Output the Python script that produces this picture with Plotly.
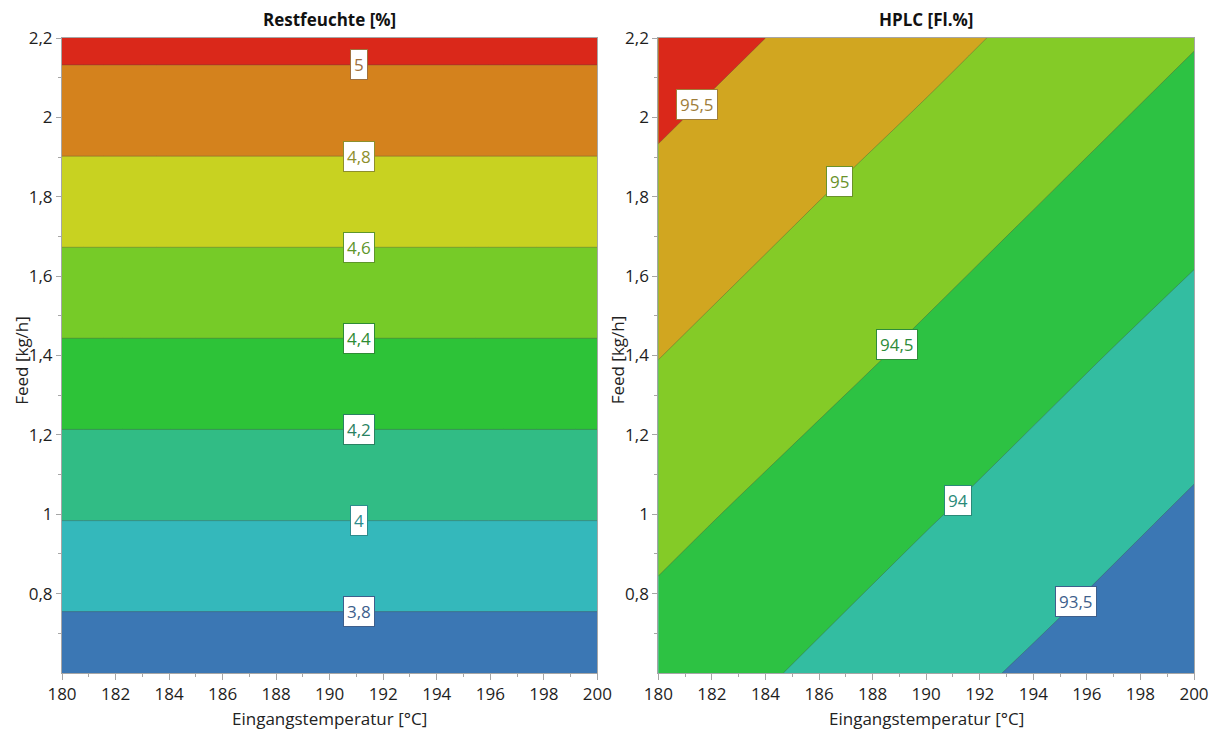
import numpy as np
import plotly.graph_objects as go

# Factor grid: inlet temperature (°C) and feed rate (kg/h)
temperature = [180, 185, 190, 195, 200]
feed = [0.6, 1.0, 1.4, 1.8, 2.2]

# Residual moisture [%] on the grid (rows = feed, columns = temperature)
restfeuchte = [
    [3.665, 3.665, 3.665, 3.665, 3.665],
    [4.014, 4.014, 4.014, 4.014, 4.014],
    [4.362, 4.362, 4.362, 4.362, 4.362],
    [4.711, 4.711, 4.711, 4.711, 4.711],
    [5.059, 5.059, 5.059, 5.059, 5.059],
]

# HPLC purity [area %] on the grid (rows = feed, columns = temperature)
hplc = [
    [94.28, 93.98, 93.67, 93.37, 93.07],
    [94.64, 94.34, 94.04, 93.74, 93.43],
    [95.01, 94.71, 94.41, 94.10, 93.80],
    [95.38, 95.07, 94.77, 94.47, 94.17],
    [95.74, 95.44, 95.14, 94.83, 94.53],
]

rf_levels = [3.8, 4.0, 4.2, 4.4, 4.6, 4.8, 5.0]
hplc_levels = [93.5, 94.0, 94.5, 95.0, 95.5]

# temperature at which each contour label sits
rf_label_temp = [191.1, 191.1, 191.1, 191.1, 191.1, 191.1, 191.1]
hplc_label_temp = [195.6, 191.2, 188.9, 186.75, 181.45]

rf_colors = ["#3B77B4", "#34B8BB", "#31BC85", "#2DC338",
             "#76CB28", "#C8D221", "#D4821D", "#DA281A"]
hplc_colors = ["#3B77B4", "#33BDA1", "#2DC243", "#84CB27", "#D1A620", "#DA281A"]

rf_label_colors = ["#3E5F8C", "#2C8C8E", "#2A8262", "#2E8C34",
                   "#5E962A", "#8E8F2C", "#A0703C"]
hplc_label_colors = ["#3E5F8C", "#2A8A78", "#2E8C3A", "#6A922A", "#A07E3A"]

W, H = 1210, 731
SX = 1.0125         # horizontal scale for pixel-based placement
ML, MR, MT, MB = round(61 * SX), W - round(1194 * SX), 38, 58
PW, PH = W - ML - MR, H - MT - MB


def px(x):
    return (x * SX - ML) / PW


def py(y):
    return (H - MB - y) / PH


def level_feed(z, t, level):
    col = [np.interp(t, temperature, row) for row in z]
    return float(np.interp(level, col, feed))


def stepped_scale(colors):
    n = len(colors) - 1
    return [[k / n, c] for k, c in enumerate(colors)]


fig = go.Figure()

panels = [
    (restfeuchte, rf_levels, rf_colors, rf_label_temp, rf_label_colors, "x", "y"),
    (hplc, hplc_levels, hplc_colors, hplc_label_temp, hplc_label_colors, "x2", "y2"),
]

for z, levels, colors, ltemp, lcolors, xa, ya in panels:
    size = round(levels[1] - levels[0], 6)
    fig.add_trace(go.Contour(
        x=temperature, y=feed, z=z,
        xaxis=xa, yaxis=ya,
        contours=dict(start=levels[0], end=levels[-1], size=size,
                      coloring="fill", showlabels=False),
        colorscale=stepped_scale(colors),
        line=dict(color="rgba(70,70,70,0.35)", width=1),
        showscale=False, hoverinfo="skip",
    ))
    for lvl, t, c in zip(levels, ltemp, lcolors):
        fig.add_annotation(
            x=t, y=level_feed(z, t, lvl), xref=xa, yref=ya,
            text=f"{lvl:g}".replace(".", ","), showarrow=False,
            font=dict(family="Open Sans", size=17, color=c),
            bgcolor="white", bordercolor=c, borderwidth=1, borderpad=3,
        )

axis_common = dict(
    showgrid=False, zeroline=False, showline=True, linecolor="#A6A6A6",
    linewidth=1, mirror=True, ticks="outside", tickcolor="#A6A6A6",
    tickfont=dict(family="Open Sans", size=17, color="#1E1E1E"),
)
xcommon = dict(axis_common, range=[180, 200], tickvals=list(range(180, 201, 2)),
               ticklen=6, minor=dict(ticks="outside", dtick=1, ticklen=3,
                                     tickcolor="#A6A6A6"))
ycommon = dict(axis_common, range=[0.6, 2.2],
               tickvals=[0.8, 1.0, 1.2, 1.4, 1.6, 1.8, 2.0, 2.2], ticklen=5,
               minor=dict(ticks="outside", tickvals=[0.7, 0.9, 1.1, 1.3, 1.5, 1.7, 1.9, 2.1],
                          ticklen=3, tickcolor="#A6A6A6"))

left_dom = [0, px(597)]
right_dom = [px(658), 1]

fig.update_layout(
    width=W, height=H, autosize=False,
    margin=dict(l=ML, r=MR, t=MT, b=MB),
    paper_bgcolor="white", plot_bgcolor="white",
    separators=",.",
    showlegend=False,
    xaxis=dict(xcommon, domain=left_dom, anchor="y"),
    yaxis=dict(ycommon, domain=[0, 1], anchor="x"),
    xaxis2=dict(xcommon, domain=right_dom, anchor="y2"),
    yaxis2=dict(ycommon, domain=[0, 1], anchor="x2"),
)

text_font = dict(family="Open Sans", size=17, color="#222222")
title_font = dict(family="Open Sans", size=17, color="#111111")

for cx, title in [(329, "<b>Restfeuchte [%]</b>"), (926, "<b>HPLC [Fl.%]</b>")]:
    fig.add_annotation(x=px(cx), y=py(19), xref="paper", yref="paper",
                       text=title, showarrow=False, font=title_font,
                       xanchor="center", yanchor="middle")
    fig.add_annotation(x=px(cx), y=py(718), xref="paper", yref="paper",
                       text="Eingangstemperatur [°C]", showarrow=False,
                       font=text_font, xanchor="center", yanchor="middle")

for cx in [20, 617]:
    fig.add_annotation(x=px(cx), y=py(360), xref="paper", yref="paper",
                       text="Feed [kg/h]", showarrow=False, textangle=-90,
                       font=text_font, xanchor="center", yanchor="middle")

fig.write_html("out.html", config={"displayModeBar": False})
